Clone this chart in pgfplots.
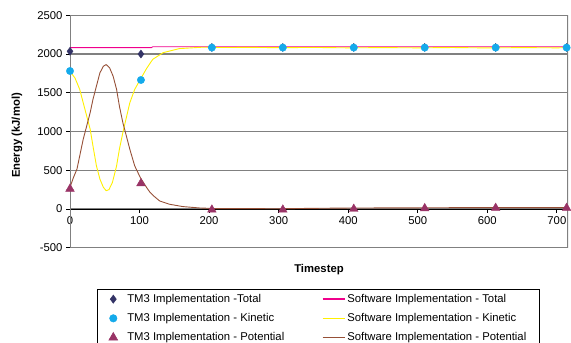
\documentclass[border=0pt]{standalone}
\usepackage{fontspec}
\setmainfont{Liberation Sans}
\usepackage{pgfplots}
\pgfplotsset{compat=1.18}
\definecolor{tmtotal}{RGB}{51,51,102}
\definecolor{tmkin}{RGB}{20,170,235}
\definecolor{tmpot}{RGB}{153,51,102}
\definecolor{swtotal}{RGB}{240,0,140}
\definecolor{swkin}{RGB}{255,240,0}
\definecolor{swpot}{RGB}{150,80,55}
\definecolor{gridgray}{RGB}{128,128,128}
\begin{document}
\begin{tikzpicture}[font=\fontsize{11.3}{13.6}\selectfont]
\begin{axis}[
  set layers,
  at={(70pt,95.3pt)}, anchor=south west,
  scale only axis, width=498pt, height=232.4pt,
  xmin=0, xmax=716, ymin=-500, ymax=2500,
  axis lines=middle, axis line style={black, line width=0.8pt, -},
  xtick={0,100,...,700}, ytick={-500,0,...,2500},
  hide obscured x ticks=false, hide obscured y ticks=false,
  tick align=outside, major tick length=4pt, tick style={black, line width=0.8pt},
  ymajorgrids, grid style={gridgray, line width=1.2pt},
  /pgf/number format/assume math mode=true,
  /pgf/number format/1000 sep={},
  tick label style={font=\fontsize{11.3}{13.6}\selectfont},
  xlabel={Timestep}, ylabel={Energy (kJ/mol)},
  xlabel style={at={(axis description cs:0.5,-0.093)}, anchor=center, font=\fontsize{11.3}{13.6}\selectfont\bfseries},
  ylabel style={at={(axis description cs:-0.1064,0.483)}, anchor=center, rotate=90, font=\fontsize{11.3}{13.6}\selectfont\bfseries},
  legend style={at={(axis description cs:0.0542,-0.1777)}, anchor=north west, draw=black, line width=0.6pt,
    legend columns=2, row sep=5.5pt, inner ysep=3pt, /tikz/column 2/.style={column sep=35.5pt}, font=\fontsize{11.3}{13.6}\selectfont},
  legend cell align=left,
]
\draw[on layer=axis background, gridgray, line width=1.2pt] (rel axis cs:0,0) rectangle (rel axis cs:1,1);

\addlegendimage{legend image code/.code={\path[draw=none] (-13pt,0pt) -- (12pt,0pt); \draw[tmtotal] plot[mark=diamond*, mark size=4pt, only marks] coordinates {(0pt,0pt)};}}
\addlegendentry{TM3 Implementation -Total}
\addlegendimage{legend image code/.code={\draw[swtotal, line width=1.5pt] (0pt,0pt) -- (22pt,0pt);}}
\addlegendentry{Software Implementation - Total}
\addlegendimage{legend image code/.code={\path[draw=none] (-13pt,0pt) -- (12pt,0pt); \draw[tmkin] plot[mark=*, mark size=3.7pt, only marks] coordinates {(0pt,0pt)};}}
\addlegendentry{TM3 Implementation - Kinetic}
\addlegendimage{legend image code/.code={\draw[swkin, line width=1.5pt] (0pt,0pt) -- (22pt,0pt);}}
\addlegendentry{Software Implementation - Kinetic}
\addlegendimage{legend image code/.code={\path[draw=none] (-13pt,0pt) -- (12pt,0pt); \draw[tmpot] plot[mark=triangle*, mark size=5pt, only marks] coordinates {(0pt,0pt)};}}
\addlegendentry{TM3 Implementation - Potential}
\addlegendimage{legend image code/.code={\draw[swpot, line width=1.5pt] (0pt,0pt) -- (22pt,0pt);}}
\addlegendentry{Software Implementation - Potential\hspace*{8pt}}

% Software Implementation - Total
\addplot[forget plot, swtotal, line width=0.9pt, no marks] coordinates {
(0,2083) (117,2083) (119,2094) (716,2094)};
% Software Implementation - Kinetic
\addplot[forget plot, swkin, line width=0.9pt, no marks] coordinates {
(0,1779) (3,1740) (7,1693) (10,1630) (14,1543) (19,1371) (24,1200) (29,1029)
(33,814) (38,557) (43,386) (48,279) (52,236) (56,249) (61,343) (67,557)
(71,771) (76,986) (81,1179) (86,1371) (93,1543) (101,1671) (110,1812)
(119,1932) (134,2018) (157,2070) (190,2088) (220,2084) (260,2086) (300,2082)
(350,2085) (400,2080) (450,2083) (500,2080) (550,2084) (600,2079) (650,2083)
(700,2080) (716,2082)};
% Software Implementation - Potential
\addplot[forget plot, swpot, line width=0.9pt, no marks] coordinates {
(0,280) (5,407) (10,514) (14,686) (19,900) (24,1071) (29,1243) (33,1414)
(38,1586) (43,1757) (48,1843) (52,1864) (57,1821) (62,1714) (67,1543)
(71,1329) (76,1114) (81,943) (86,771) (93,557) (101,407) (110,279)
(115,215) (120,170) (129,103) (143,61) (162,31) (186,13) (210,5) (300,3)
(350,8) (400,12) (500,15) (600,18) (716,18)};
% TM3 Implementation - Total
\addplot[forget plot, only marks, mark=diamond*, mark size=4pt, tmtotal] coordinates {
(0,2035) (102,2000) (204,2085) (306,2085) (408,2085) (510,2085) (612,2085) (714,2085)};
% TM3 Implementation - Kinetic
\addplot[forget plot, only marks, mark=*, mark size=3.7pt, tmkin] coordinates {
(0,1781) (102,1665) (204,2083) (306,2083) (408,2083) (510,2083) (612,2083) (714,2083)};
% TM3 Implementation - Potential
\addplot[forget plot, only marks, mark=triangle*, mark size=5pt, tmpot] coordinates {
(0,260) (102,330) (204,-10) (306,-10) (408,0) (510,8) (612,12) (714,12)};
\end{axis}
\pgfresetboundingbox
\path[use as bounding box] (0,0) rectangle (571pt,343pt);
\end{tikzpicture}
\end{document}
